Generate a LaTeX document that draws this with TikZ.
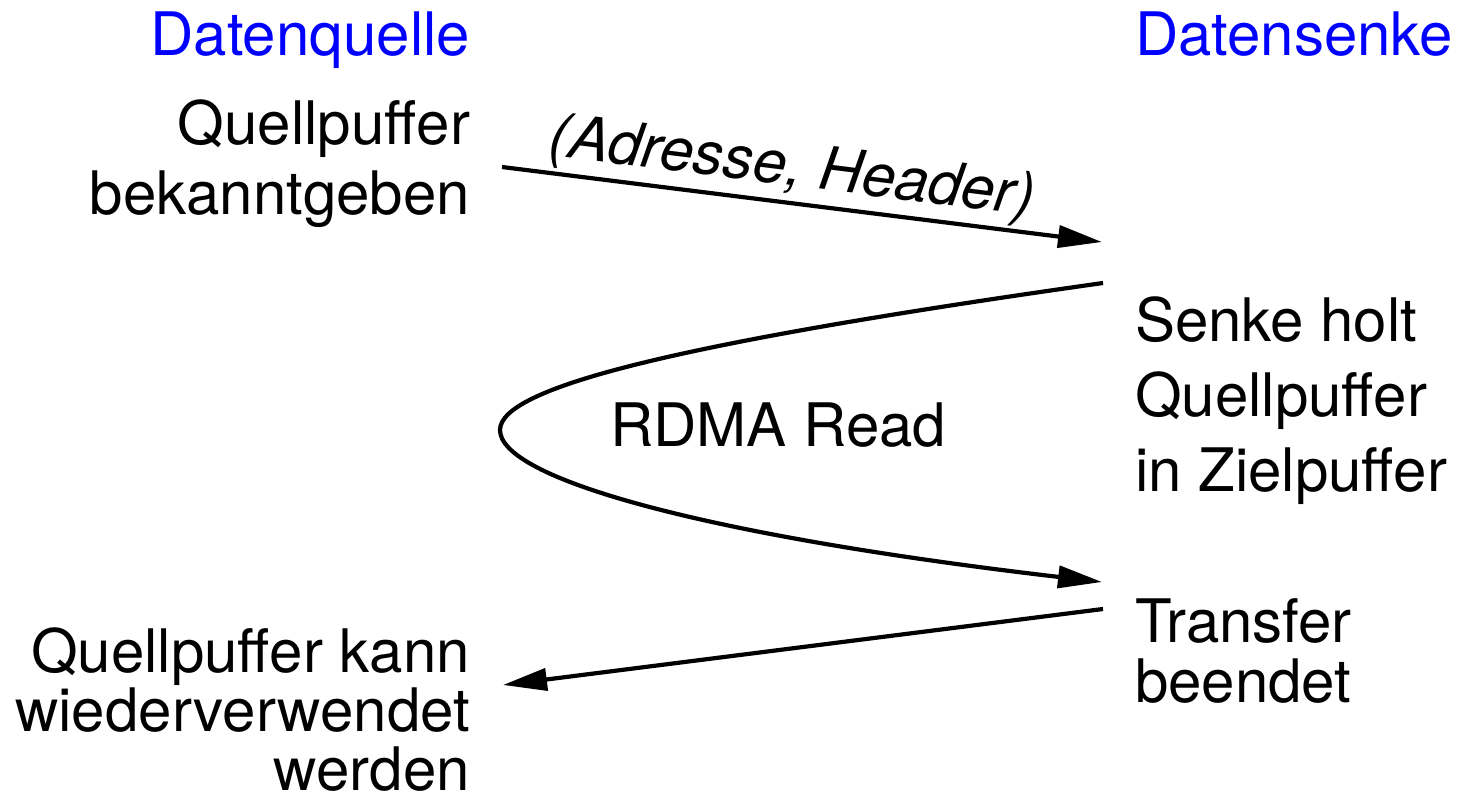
\documentclass[tikz,border=0pt]{standalone}
\usepackage{fontspec}
\setmainfont{TeX Gyre Heros}
\usetikzlibrary{arrows.meta}
\definecolor{headblue}{RGB}{0,0,255}
\tikzset{
  every node/.style={inner sep=0pt, outer sep=0pt},
  head/.style={text=headblue, font=\fontsize{30}{35}\selectfont},
  lbl/.style={font=\fontsize{30}{#1}\selectfont},
  lbl/.default=35,
  msg/.style={line width=2.1pt, -{Triangle[length=22pt,width=11pt]}},
}
\begin{document}
\begin{tikzpicture}[x=0.5pt,y=-0.5pt]
  \useasboundingbox (0,0) rectangle (1457,796);

  % column headings
  \node[head, anchor=base east] (src) at (470,56) {Datenquelle};
  \node[head, anchor=base west] (snk) at (1135,56) {Datensenke};

  % source side (anchored on the last line's baseline)
  \node[lbl=35, align=right, anchor=base east] (announce) at (470,215)
    {Quellpuffer\\bekanntgeben};
  \node[lbl=29.5, align=right, anchor=base east] (reuse) at (470,790)
    {Quellpuffer kann\\wiederverwendet\\werden};

  % sink side
  \node[lbl=37.5, align=left, anchor=base west] (fetch) at (1135,492)
    {Senke holt\\Quellpuffer\\in Zielpuffer};
  \node[lbl=30, align=left, anchor=base west] (done) at (1135,702)
    {Transfer\\beendet};

  % message end points
  \coordinate (a1s) at (502,167);
  \coordinate (a1e) at (1102,242);
  \coordinate (r1) at (1103,283);
  \coordinate (rl) at (500,430);
  \coordinate (r2) at (1102,582);
  \coordinate (a3s) at (1103,609);
  \coordinate (a3e) at (503,685);

  % address announcement
  \draw[msg] (a1s) -- (a1e);
  \node[rotate=-7.2, font=\fontsize{30}{35}\selectfont\itshape] (addr)
    at (792,170) {(Adresse, Header)};

  % RDMA read loop
  \draw[msg] (r1) .. controls (700,340) and (500,385) .. (rl)
                  .. controls (500,478) and (700,535) .. (r2);
  \node[lbl, anchor=base west] (rdma) at (610,447) {RDMA Read};

  % completion
  \draw[msg] (a3s) -- (a3e);
\end{tikzpicture}
\end{document}
